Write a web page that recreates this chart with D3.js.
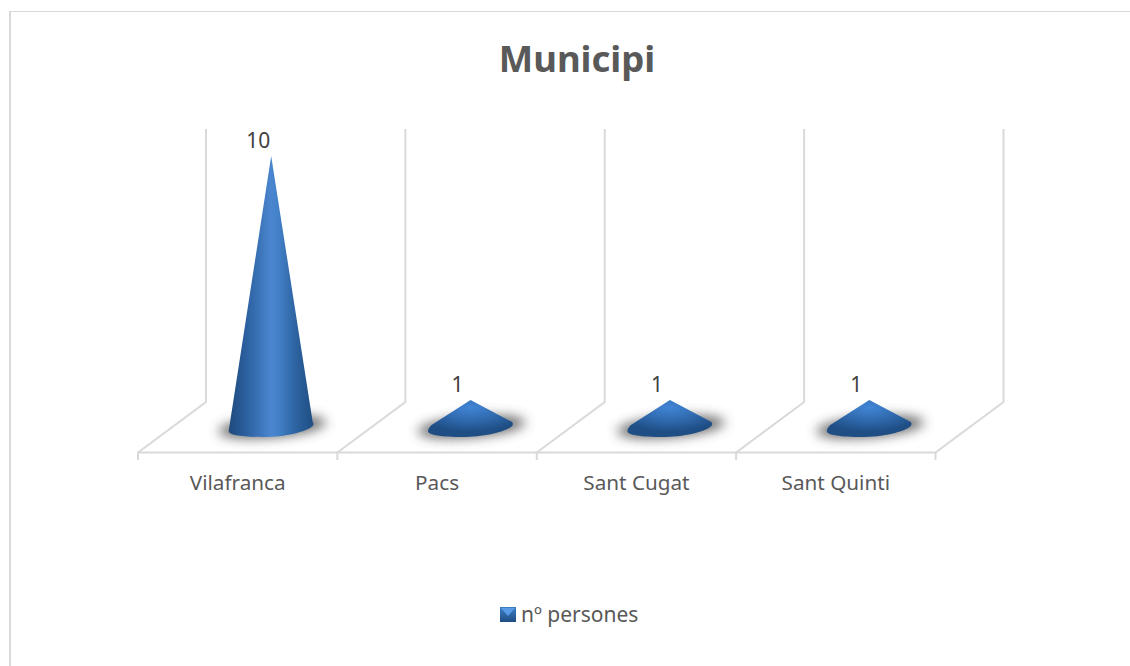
<!DOCTYPE html>
<html><head><meta charset="utf-8">
<script src="https://cdn.jsdelivr.net/npm/d3@7"></script>
<style>html,body{margin:0;padding:0;background:#fff}svg{display:block}text{font-family:"Noto Sans",sans-serif}</style>
</head><body><div id="c"></div>
<script>
const categories = ["Vilafranca","Pacs","Sant Cugat","Sant Quinti"];
const values = [10,1,1,1];
const seriesName = "nº persones";
const chartTitle = "Municipi";
const W=1130,H=666;
const svg=d3.select("#c").append("svg").attr("width",W).attr("height",H);
const defs=svg.append("defs");
const grad=defs.append("linearGradient").attr("id","cone").attr("x1",0).attr("x2",1).attr("y1",0).attr("y2",0);
[[0,"#1f4a7c"],[0.2,"#2b5f9e"],[0.5,"#4a86cf"],[0.58,"#4381c9"],[0.8,"#2c629f"],[1,"#1f4e82"]].forEach(s=>grad.append("stop").attr("offset",s[0]).attr("stop-color",s[1]));
const flat=defs.append("radialGradient").attr("id","coneFlat").attr("cx",0.5).attr("cy",0.2).attr("r",0.66);
[[0,"#4285d6"],[0.55,"#2f69ad"],[1,"#1f4e85"]].forEach(s=>flat.append("stop").attr("offset",s[0]).attr("stop-color",s[1]));
defs.append("filter").attr("id","blur").attr("x","-40%").attr("y","-80%").attr("width","180%").attr("height","260%")
  .append("feGaussianBlur").attr("stdDeviation",6);
const lg=defs.append("linearGradient").attr("id","leg").attr("x1",0).attr("x2",0).attr("y1",0).attr("y2",1);
[[0,"#3f7fc8"],[1,"#1f4e85"]].forEach(s=>lg.append("stop").attr("offset",s[0]).attr("stop-color",s[1]));

// frame
svg.append("path").attr("d",`M10,${H}V12`).attr("fill","none").attr("stroke","#d9d9d9").attr("stroke-width",2);
svg.append("path").attr("d",`M9,11.5H${W}`).attr("stroke","#d9d9d9").attr("fill","none");

svg.append("text").attr("x",577).attr("y",72).attr("text-anchor","middle")
  .attr("font-size",36.5).attr("font-weight",700).attr("fill","#595959").text(chartTitle);

const x=d3.scaleBand().domain(categories).range([138,935.5]);
const y=d3.scaleLinear().domain([0,11]).range([427,129]);
const depthX=68,floorFront=452.5,floorBack=402;
const edges=d3.range(categories.length+1).map(i=>138+i*x.step());
const grid=svg.append("g").attr("stroke","#d9d9d9").attr("stroke-width",2).attr("fill","none");
grid.selectAll("path.w").data(edges).join("path").attr("class","w")
 .attr("d",e=>`M${e},${floorFront}L${e+depthX},${floorBack}V${y(11)}`);
grid.selectAll("path.t").data(edges).join("path").attr("class","t")
 .attr("d",e=>`M${e},${floorFront}V460`);
grid.append("path").attr("d",`M137,${floorFront}H${edges[4]+1}`);

const g=svg.selectAll("g.cone").data(categories.map((c,i)=>({c,v:values[i]}))).join("g").attr("class","cone")
 .attr("transform",d=>`translate(${x(d.c)+x.step()/2+33.5},0)`);
g.append("ellipse").attr("cx",1).attr("cy",y(0)).attr("rx",54).attr("ry",10.5)
 .attr("transform",`rotate(-5 0 ${y(0)})`).attr("fill","#4a4a4a").attr("opacity",.8).attr("filter","url(#blur)");
const b=y(0);
g.append("path").attr("fill",d=>d.v>2?"url(#cone)":"url(#coneFlat)")
 .attr("d",d=>{
   const lower=`M0,${y(d.v)}L41.5,${b-5}Q43,${b-3} 41.5,${b-1}C35,${b+5} 14,${b+10} -8,${b+10}C-28,${b+10} -43,${b+8} -42.5,${b+4}`;
   return d.v>2 ? lower+"Z" : lower+`C-42.5,${b+2} -41,${b} -39,${b-2}Z`;
 });
g.append("text").attr("x",-13).attr("y",d=>y(d.v)-8).attr("text-anchor","middle").attr("font-size",21).attr("fill","#404040").text(d=>d.v);

svg.selectAll("text.cat").data(categories).join("text").attr("class","cat")
 .attr("x",c=>x(c)+x.step()/2).attr("y",490).attr("text-anchor","middle")
 .attr("font-size",20.7).attr("fill","#595959").text(c=>c);

svg.append("rect").attr("x",500).attr("y",607).attr("width",16).attr("height",15).attr("fill","url(#leg)");
svg.append("path").attr("d","M501,608H515L508,616Z").attr("fill","#5b9be6");
svg.append("text").attr("x",521).attr("y",622).attr("font-size",21).attr("fill","#595959").text(seriesName);
</script></body></html>
